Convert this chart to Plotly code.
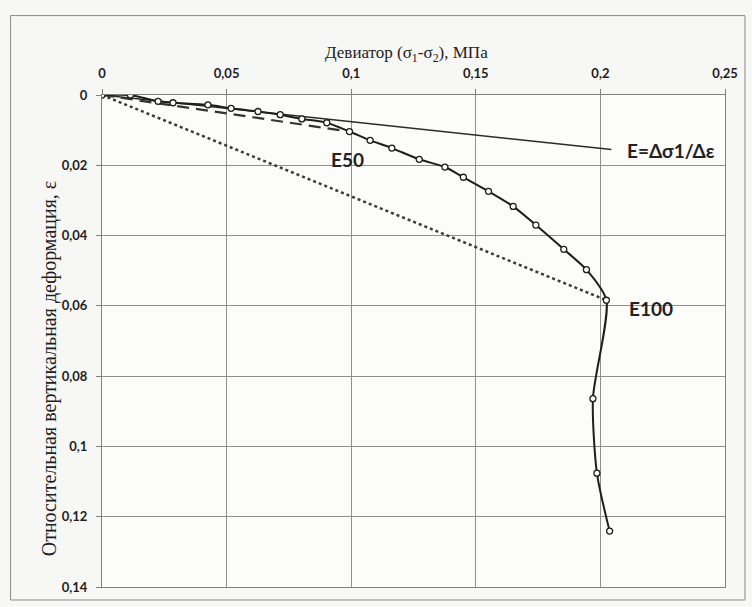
import plotly.graph_objects as go

# Main test curve: deviator stress (MPa) vs relative vertical strain
deviator = [0, 0.0114, 0.0225, 0.0285, 0.0425, 0.0518, 0.0626, 0.0715, 0.0802, 0.0902,
            0.0993, 0.1076, 0.1163, 0.1273, 0.1376, 0.1450, 0.1551, 0.1650, 0.1741,
            0.1853, 0.1944, 0.2024, 0.1970, 0.1986, 0.2037]
strain = [0, 0.0, 0.0018, 0.0022, 0.0028, 0.0038, 0.0047, 0.0056, 0.0068, 0.0079,
          0.0104, 0.0129, 0.0151, 0.0183, 0.0205, 0.0234, 0.0274, 0.0317, 0.0370,
          0.0439, 0.0497, 0.0584, 0.0864, 0.1076, 0.1241]

# Tangent (initial modulus) line
tangent_x = [0, 0.2044]
tangent_y = [0, 0.0155]
# Secant E50 line
e50_x = [0, 0.0993]
e50_y = [0, 0.0104]
# Secant E100 line
e100_x = [0, 0.2024]
e100_y = [0, 0.0584]

x_ticks = [0, 0.05, 0.1, 0.15, 0.2, 0.25]
y_ticks = [0, 0.02, 0.04, 0.06, 0.08, 0.1, 0.12, 0.14]

W, H = 752, 607
L, R, T, B = 101.5, 725, 94.5, 587

fig = go.Figure()
fig.add_trace(go.Scatter(x=tangent_x, y=tangent_y, mode="lines",
                         line=dict(color="#2a2a2a", width=1.5), showlegend=False))
fig.add_trace(go.Scatter(x=e50_x, y=e50_y, mode="lines",
                         line=dict(color="#333333", width=2.2, dash="12px,7px"), showlegend=False))
fig.add_trace(go.Scatter(x=e100_x, y=e100_y, mode="lines",
                         line=dict(color="#3a3a3a", width=2.5, dash="dot"), showlegend=False))
fig.add_trace(go.Scatter(x=deviator, y=strain, mode="lines+markers",
                         line=dict(color="#1e1e1e", width=2, shape="spline", smoothing=0.7),
                         marker=dict(symbol="circle", size=6, color="white",
                                     line=dict(color="#1e1e1e", width=1.3)),
                         showlegend=False))

tick_font = dict(family="Lato", size=13, color="#1e1e1e", weight="bold")
label_font = dict(family="Lato", size=19, color="#222222", weight="bold")

fig.update_layout(
    width=W, height=H,
    margin=dict(l=L, r=W - R, t=T, b=H - B),
    paper_bgcolor="#f7f7f5", plot_bgcolor="#fcfcfb",
    separators=", ",
    xaxis=dict(side="top", range=[0, 0.25], tickvals=x_ticks, tickfont=tick_font,
               showgrid=True, gridcolor="#8f8f8f", gridwidth=1, zeroline=False,
               showline=True, linecolor="#808080", mirror=True,
               ticks="outside", ticklen=5, tickcolor="#808080", ticklabelstandoff=6),
    yaxis=dict(range=[0.14, 0], tickvals=y_ticks, tickfont=tick_font,
               showgrid=True, gridcolor="#8f8f8f", gridwidth=1, zeroline=False,
               showline=True, linecolor="#808080", mirror=True,
               ticks="outside", ticklen=5, tickcolor="#808080", ticklabelstandoff=6),
    shapes=[dict(type="rect", xref="paper", yref="paper",
                 x0=(10 - L) / (R - L), x1=(745 - L) / (R - L),
                 y0=(B - 600) / (B - T), y1=(B - 15) / (B - T),
                 line=dict(color="#8a8a8a", width=1))],
    annotations=[
        dict(text="Девиатор (σ<sub>1</sub>-σ<sub>2</sub>), МПа", xref="paper", yref="paper",
             x=(406 - L) / (R - L), y=(B - 40) / (B - T), showarrow=False,
             font=dict(family="Liberation Serif", size=17, color="#1e1e1e")),
        dict(text="Относительная вертикальная деформация, ε", xref="paper", yref="paper",
             x=(35 - L) / (R - L), y=(B - 368) / (B - T), showarrow=False, textangle=-90,
             font=dict(family="Liberation Serif", size=20, color="#1e1e1e")),
        dict(text="E50", x=0.0985, y=0.0183, xref="x", yref="y", showarrow=False,
             font=label_font),
        dict(text="E100", x=0.2202, y=0.0607, xref="x", yref="y", showarrow=False,
             font=label_font),
        dict(text="E=Δσ1/Δε", x=0.2282, y=0.0158, xref="x", yref="y", showarrow=False,
             font=label_font),
    ],
)

fig.write_html("out.html")
